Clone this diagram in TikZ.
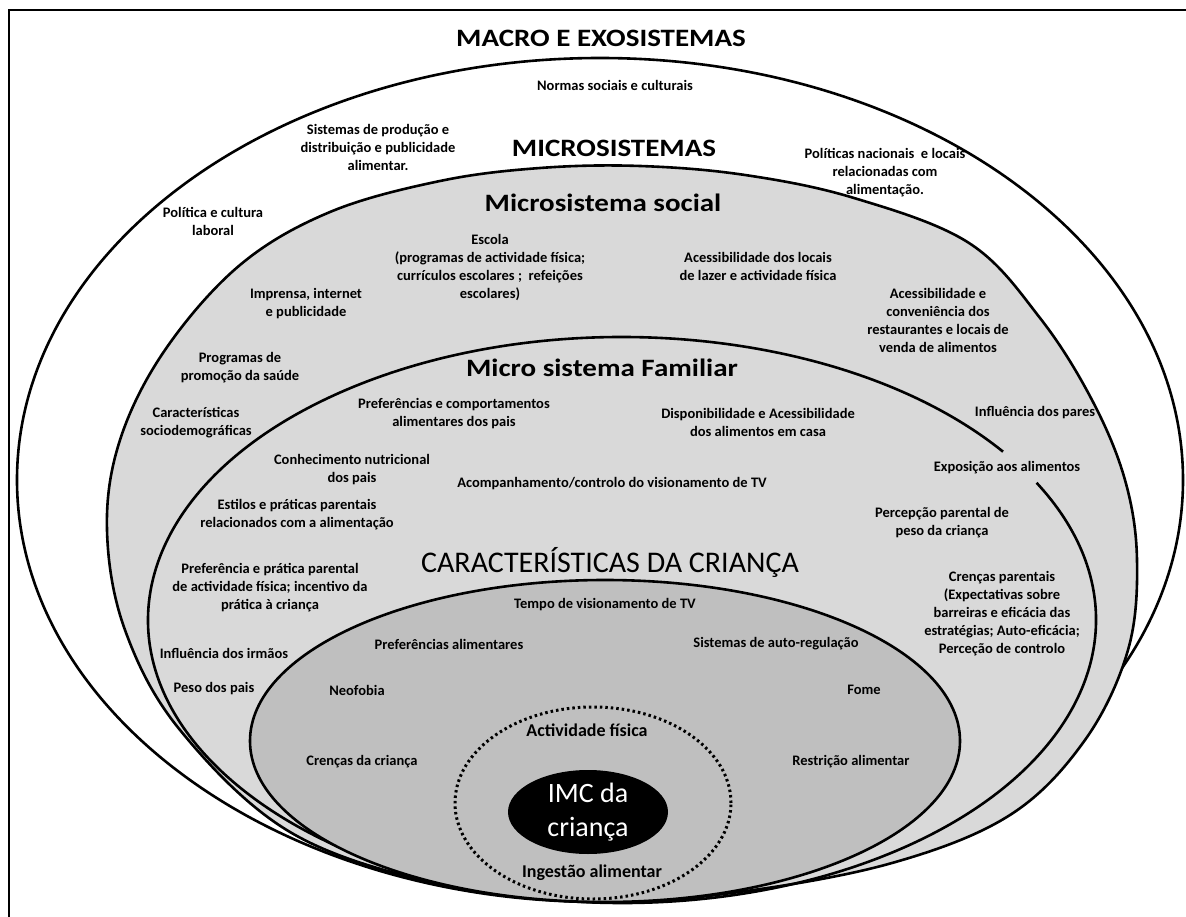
\documentclass[tikz,border=0pt]{standalone}
\usepackage{fontspec}
\setmainfont{Carlito}
\newfontfamily\widefont{Carlito}[FakeStretch=1.16]
\usepackage{tikz}
\usetikzlibrary{positioning}

\definecolor{socialgray}{RGB}{217,217,217}
\definecolor{childgray}{RGB}{191,191,191}

\tikzset{
  lbl/.style={align=center, inner sep=1pt, font=\bfseries\fontsize{14.5}{18}\selectfont},
  biglbl/.style={align=center, inner sep=1pt, font=\bfseries\fontsize{18}{20}\selectfont},
  ttl/.style={inner sep=0pt, font=\widefont\bfseries\fontsize{25}{30}\selectfont},
  ring/.style={line width=2.6pt},
}

\begin{document}
\begin{tikzpicture}[x=1pt, y=-1pt]
\useasboundingbox (0,0) rectangle (1186,917);
%% frame
\draw[line width=2pt] (9,917) -- (9,10) -- (1186,10);
%% rings
\draw[ring, fill=white] (600,480) ellipse [x radius=583pt, y radius=422pt];
\draw[ring, fill=socialgray] plot[smooth cycle, tension=0.6] coordinates {
  (540,168) (640,166) (745,175) (854,198) (969,243) (1040,318) (1092,400)
  (1125,480) (1137,560) (1128,650) (1085,740) (1010,815) (892,863) (739,892)
  (600,902) (440,884) (290,832) (180,730) (125,630) (107,530) (120,440)
  (165,350) (240,265) (330,212) (440,181)};
\draw[ring] (622,620) ++(36.5:474pt and 283pt) arc[start angle=36.5, end angle=389, x radius=474pt, y radius=283pt];
\draw[ring, fill=childgray] (605,741) ellipse [x radius=355pt, y radius=161pt];
\draw[line width=3pt, dash pattern=on 2.5pt off 3pt] (593,803) ellipse [x radius=138pt, y radius=96pt];
\fill (588,812) ellipse [x radius=80pt, y radius=42pt];

%% macro e exosistemas
\node[ttl] (macro) at (601,38) {MACRO E EXOSISTEMAS};
\node[lbl] (normas) at (615,85) {Normas sociais e culturais};
\node[lbl] (producao) at (378,147) {Sistemas de produção e\\distribuição e publicidade\\alimentar.};
\node[lbl] (politnac) at (885,173) {Políticas nacionais~ e locais\\relacionadas com\\alimentação.};
\node[lbl] (laboral) at (213,221) {Política e cultura\\laboral};

%% microsistemas
\node[ttl] (micro) at (614,148) {MICROSISTEMAS};
\node[ttl] (social) at (603,203) {Microsistema social};
\node[lbl] (escola) at (490,268) {Escola\\(programas de actividade física;\\currículos escolares ;~ refeições\\escolares)};
\node[lbl] (lazer) at (758,266) {Acessibilidade dos locais\\de lazer e actividade física};
\node[lbl] (imprensa) at (306,304) {Imprensa, internet\\e publicidade};
\node[lbl] (restaurantes) at (938,320) {Acessibilidade e\\conveniência dos\\restaurantes e locais de\\venda de alimentos};
\node[lbl] (saude) at (240,368) {Programas de\\promoção da saúde};
\node[lbl] (sociodem) at (196,423) {Características\\sociodemográficas};
\node[lbl] (pares) at (1035,413) {Influência dos pares};

%% micro sistema familiar
\node[ttl] (familiar) at (602,368) {Micro sistema Familiar};
\node[lbl] (prefpais) at (454,414) {Preferências e comportamentos\\alimentares dos pais};
\node[lbl] (dispon) at (758,422) {Disponibilidade e Acessibilidade\\dos alimentos em casa};
\node[lbl] (conhec) at (352,470) {Conhecimento nutricional\\dos pais};
\node[lbl] (exposicao) at (1007,468) {Exposição aos alimentos};
\node[lbl] (acomp) at (612,484) {Acompanhamento/controlo do visionamento de TV};
\node[lbl] (estilos) at (297,515) {Estilos e práticas parentais\\relacionados com a alimentação};
\node[lbl] (percepcao) at (942,523) {Percepção parental de\\peso da criança};
\node[lbl] (pratica) at (270,588) {Preferência e prática parental\\de actividade física; incentivo da\\prática à criança};
\node[lbl] (crencaspar) at (1002,614) {Crenças parentais\\(Expectativas sobre\\barreiras e eficácia das\\estratégias; Auto-eficácia;\\Perceção de controlo};
\node[lbl] (irmaos) at (224,653) {Influência dos irmãos};
\node[lbl] (pesopais) at (214,689) {Peso dos pais};

%% caracteristicas da crianca
\node[inner sep=0pt, font=\fontsize{30}{34}\selectfont] (crianca) at (610,562) {CARACTERÍSTICAS DA CRIANÇA};
\node[lbl] (tempo) at (605,605) {Tempo de visionamento de TV};
\node[lbl] (prefalim) at (449,644) {Preferências alimentares};
\node[lbl] (autoreg) at (776,644) {Sistemas de auto-regulação};
\node[lbl] (neofobia) at (357,690) {Neofobia};
\node[lbl] (fome) at (864,690) {Fome};
\node[lbl] (crencascr) at (362,762) {Crenças da criança};
\node[lbl] (restricao) at (851,762) {Restrição alimentar};
\node[biglbl] (actfis) at (587,730) {Actividade física};
\node[biglbl] (ingestao) at (592,873) {Ingestão alimentar};
\node[align=center, text=white, font=\fontsize{28}{34}\selectfont] (imc) at (588,812) {IMC da\\criança};
\end{tikzpicture}
\end{document}
